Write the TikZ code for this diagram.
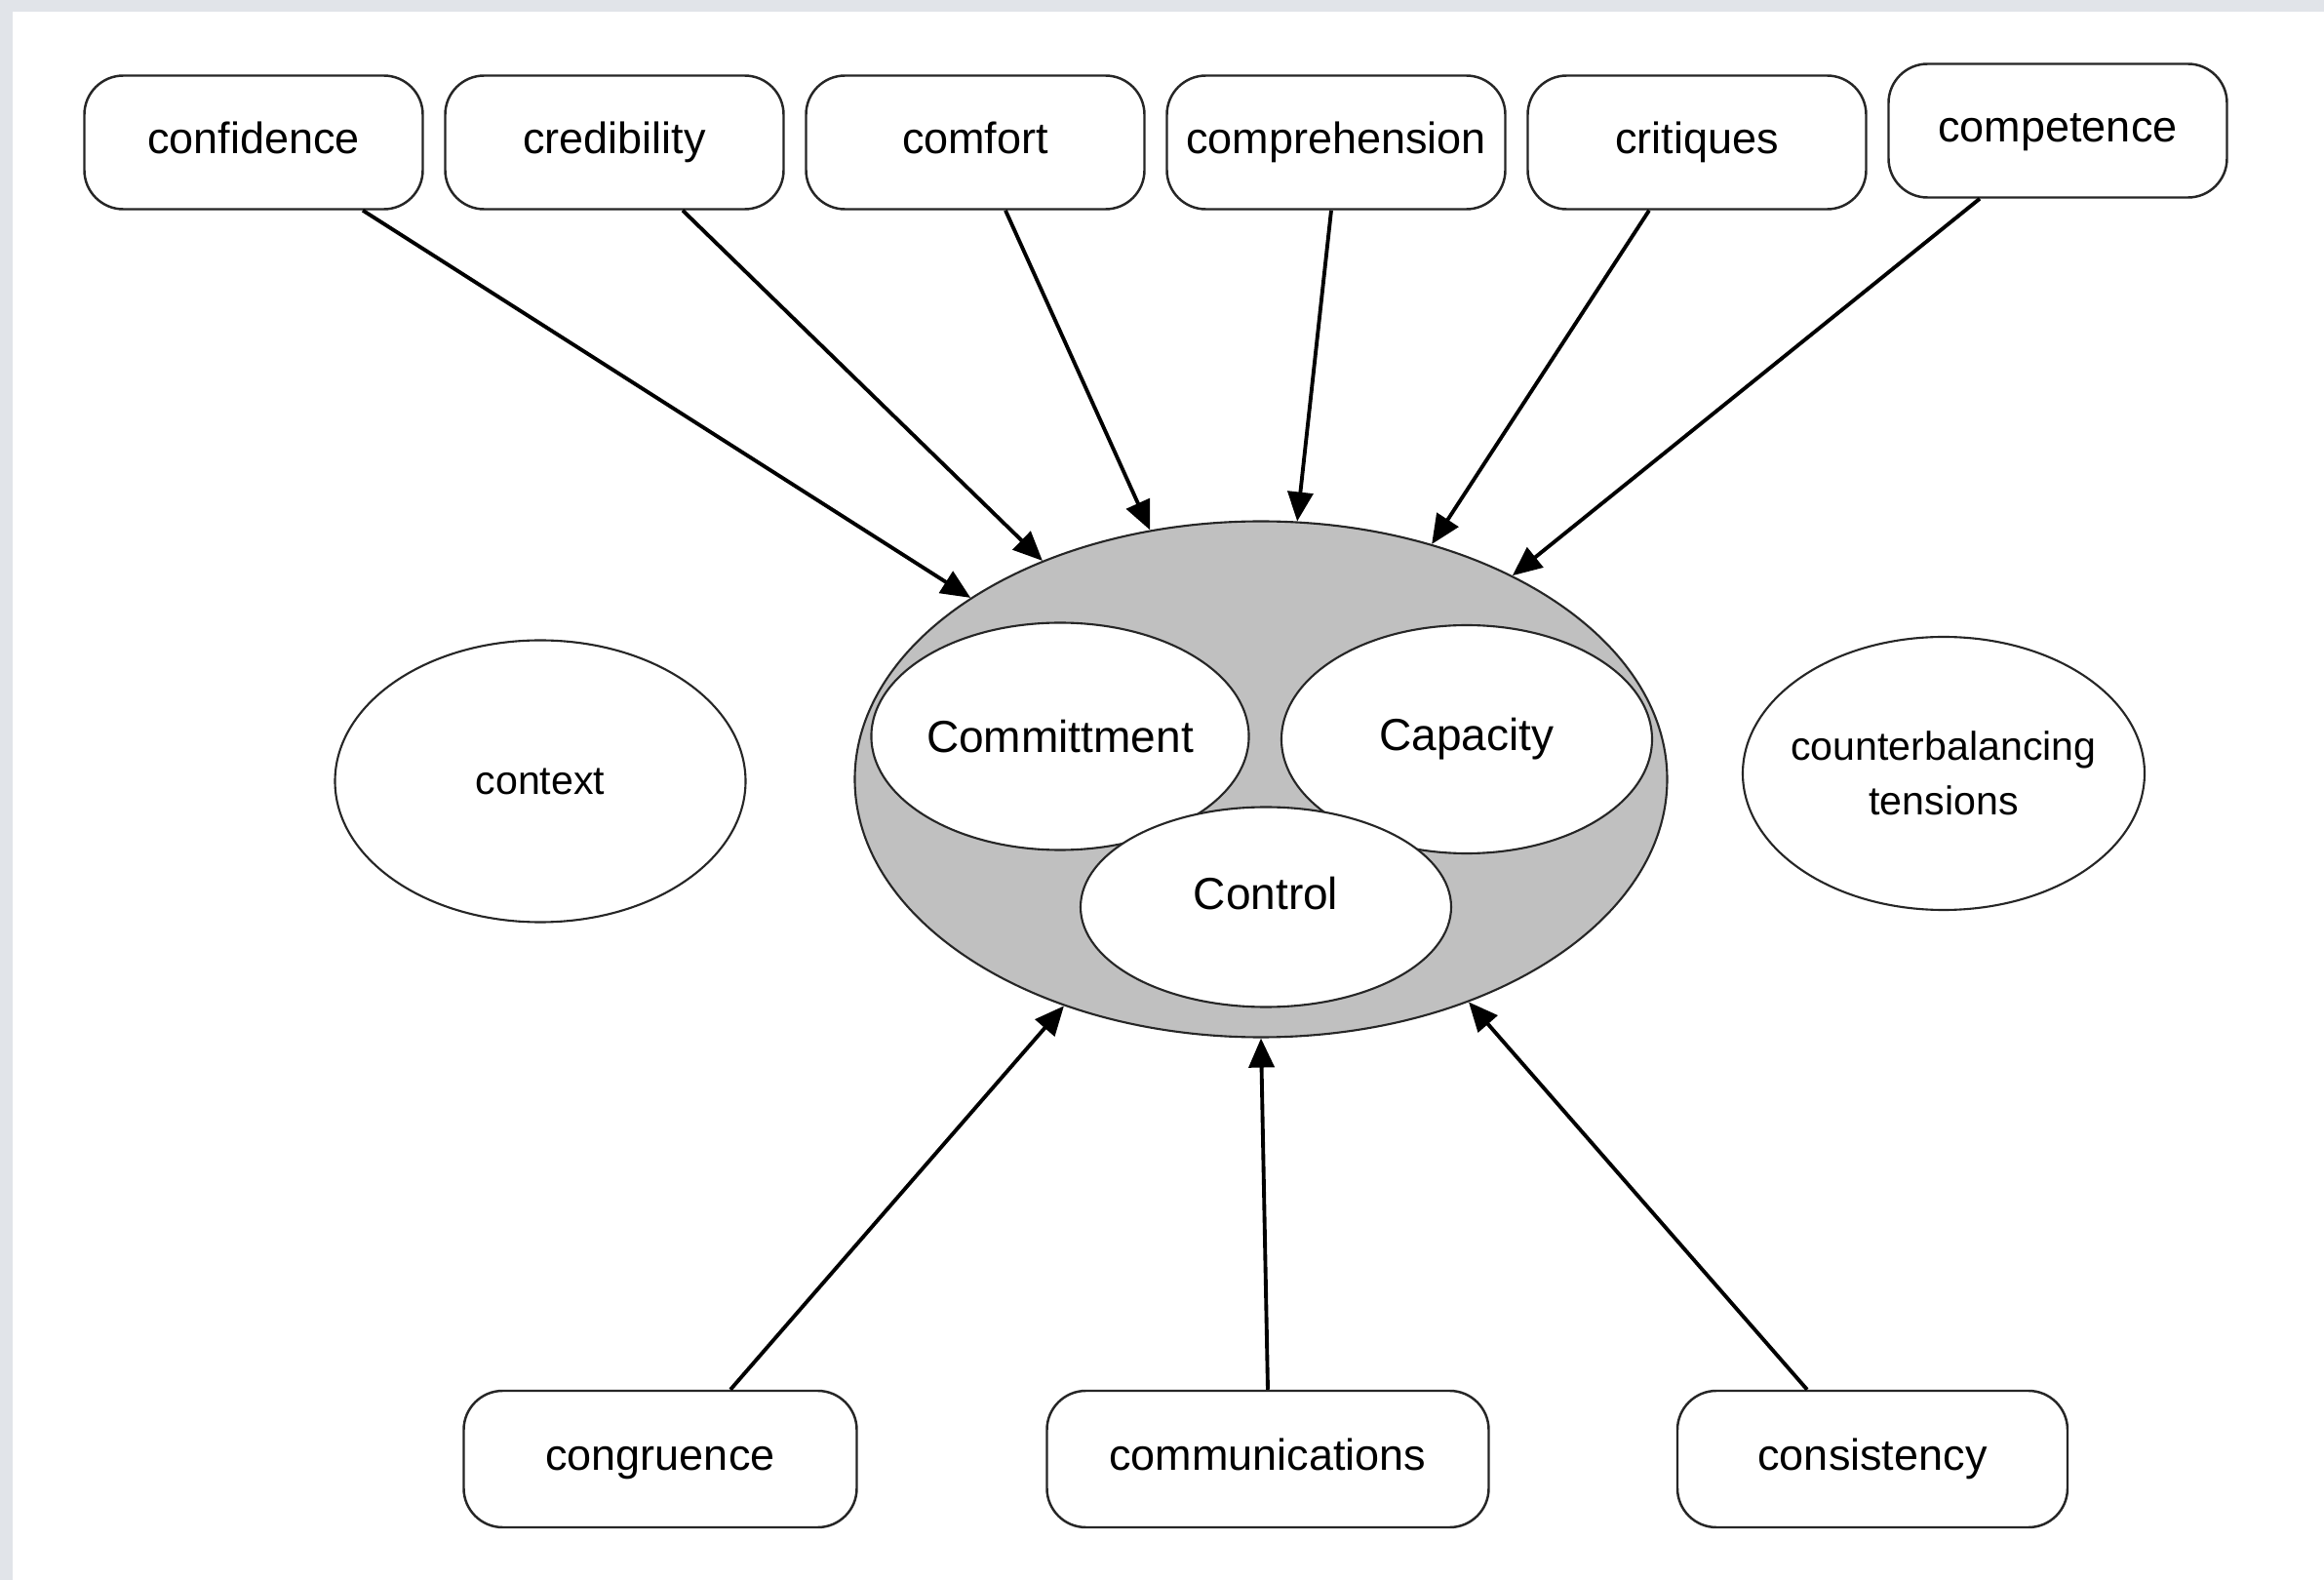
\documentclass[tikz,border=0pt]{standalone}
\usepackage{fontspec}
\setmainfont{Liberation Sans}
\usetikzlibrary{shapes.geometric,arrows.meta}
\definecolor{framegrey}{HTML}{E1E4E9}
\definecolor{hubgrey}{HTML}{C0C0C0}
\begin{document}
\begin{tikzpicture}
[
factor/.style={rectangle, rounded corners=4mm, draw=black!85, line width=0.7pt, minimum width=34.7mm, minimum height=13.7mm, text height=9pt, text depth=2.5pt, font=\fontsize{12.8}{15}\selectfont, node distance=3.7cm},
lower/.style={factor, minimum height=14mm},
side/.style={ellipse, draw=black!85, line width=0.6pt, inner sep=0pt, align=center, font=\fontsize{11.7}{15.9}\selectfont},
hub/.style={ellipse, draw=black!85, line width=0.6pt, fill=hubgrey, inner sep=0pt, minimum width=83.3mm, minimum height=52.9mm},
part/.style={ellipse, draw=black!85, line width=0.6pt, fill=white, inner sep=0pt, minimum width=38mm, font=\fontsize{13.1}{15}\selectfont},
arr/.style={-{Triangle[length=3mm,width=2.6mm]}, line width=1.1pt}
]
%Frame
\fill[framegrey] (0,0) rectangle (23.83,-16.20);
\fill[white] (0.13,-0.12) rectangle (23.83,-16.20);
\useasboundingbox (0,0) rectangle (23.83,-16.20);

%Nodes
\node[factor]   (conf)      at (2.60,-1.46)     {confidence};
\node[factor]   (cred)      [right of=conf]     {credibility};
\node[factor]   (comf)      [right of=cred]     {comfort};
\node[factor]   (compr)     [right of=comf]     {comprehension};
\node[factor]   (crit)      [right of=compr]    {critiques};
\node[factor]   (compet)    [right of=crit, yshift=1.2mm] {competence};

\node[side, minimum width=42.1mm, minimum height=28.9mm]  (ctx)   at (5.54,-8.01)  {context};
\node[side, inner xsep=-2mm, minimum width=41.2mm, minimum height=28mm]  (tens)  at (19.93,-7.93) {counterbalancing\\tensions};

\node[hub]      (hub)       at (12.93,-7.99)    {};
\node[part, minimum height=23.3mm]  (commit)    at (10.87,-7.55)   {Committment};
\node[part, minimum height=23.4mm]  (capac)     at (15.04,-7.58)   {Capacity};
\node[part, minimum height=20.5mm, text depth=2.8mm]  (ctrl)  at (12.98,-9.30)  {Control};

\node[lower, minimum width=40.3mm]  (cong)  at (6.77,-14.96)   {congruence};
\node[lower, minimum width=45.3mm]  (comm)  at (13.00,-14.96)  {communications};
\node[lower, minimum width=40mm]    (cons)  at (19.20,-14.96)  {consistency};

%Lines
\path[arr]
([xshift=11.2mm]conf.south)   edge  (hub.148)
([xshift=7mm]cred.south)      edge  (hub.135)
([xshift=3.1mm]comf.south)    edge  (hub.114)
([xshift=-0.5mm]compr.south)  edge  (hub.82)
([xshift=-4.9mm]crit.south)   edge  (hub.54)
([xshift=-8mm]compet.south)   edge  (hub.39)
([xshift=7.2mm]cong.north)    edge  (hub.229)
(comm.north)                  edge  (hub.270)
([xshift=-6.7mm]cons.north)   edge  (hub.313);

\end{tikzpicture}
\end{document}
